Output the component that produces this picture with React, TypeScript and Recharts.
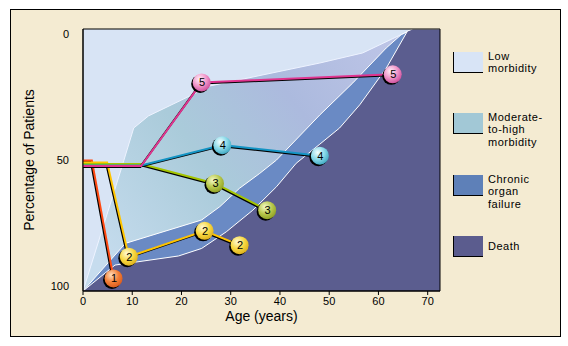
import React from "react"
import {
  ComposedChart,
  Area,
  Line,
  XAxis,
  YAxis,
  CartesianGrid,
  ReferenceArea,
} from "recharts"

// axis ticks
const ageTicks = [0, 10, 20, 30, 40, 50, 60, 70]
const pctTicks = [0, 50, 100]

// region boundaries (age in years, percentage of patients from the top)
const lowEdge = [
  { age: 0, pct: 102 },
  { age: 7.9, pct: 52.7 },
  { age: 10.3, pct: 37.3 },
  { age: 13.3, pct: 32.5 },
  { age: 20.1, pct: 26.1 },
  { age: 25.8, pct: 20.6 },
  { age: 48.1, pct: 11.5 },
  { age: 56.8, pct: 7.5 },
  { age: 67, pct: -2 },
]

const chronicEdge = [
  { age: 0, pct: 102 },
  { age: 8.6, pct: 83.1 },
  { age: 24.1, pct: 73.8 },
  { age: 27.8, pct: 68.5 },
  { age: 31.8, pct: 61.2 },
  { age: 35.9, pct: 55.3 },
  { age: 39.3, pct: 50 },
  { age: 48.1, pct: 32.1 },
  { age: 54.8, pct: 19.4 },
  { age: 61.6, pct: 5.5 },
  { age: 64.6, pct: 0.3 },
  { age: 67, pct: -2 },
]

const deathEdge = [
  { age: 0, pct: 102 },
  { age: 6.5, pct: 91.7 },
  { age: 19.4, pct: 88.1 },
  { age: 24.1, pct: 85.1 },
  { age: 29.1, pct: 78.5 },
  { age: 34.5, pct: 69.9 },
  { age: 39.3, pct: 60.6 },
  { age: 43.3, pct: 51.3 },
  { age: 48.1, pct: 43.7 },
  { age: 52.1, pct: 37.3 },
  { age: 56.2, pct: 28.1 },
  { age: 61.6, pct: 13.5 },
  { age: 65.9, pct: -1.2 },
  { age: 67, pct: -2 },
  { age: 72.5, pct: -2 },
]

// patient courses, numbered balls where ball = true
const path1 = [
  { age: 0, pct: 50.2 },
  { age: 1.8, pct: 50.2 },
  { age: 6.2, pct: 97, ball: true },
]
const path2 = [
  { age: 0, pct: 51 },
  { age: 4.9, pct: 51 },
  { age: 9.3, pct: 88.4, ball: true },
  { age: 24.7, pct: 78.1, ball: true },
  { age: 31.8, pct: 83.8, ball: true },
]
const path3 = [
  { age: 0, pct: 51.6 },
  { age: 11.8, pct: 51.6 },
  { age: 26.8, pct: 59.3, ball: true },
  { age: 37.4, pct: 69.9, ball: true },
]
const path4 = [
  { age: 0, pct: 52.2 },
  { age: 11.8, pct: 52.2 },
  { age: 28.3, pct: 44.1, ball: true },
  { age: 48.1, pct: 48.3, ball: true },
]
const path5 = [
  { age: 0, pct: 52.4 },
  { age: 11.8, pct: 52.4 },
  { age: 24.1, pct: 19.2, ball: true },
  { age: 62.9, pct: 16, ball: true },
]

const paths = [path1, path2, path3, path4, path5]
const pathColors = ["#ff4a12", "#ffc400", "#a4c400", "#1494c4", "#e0348f"]
const ballColors = [
  ["#ffe0c0", "#f48038", "#d85a1c"],
  ["#fffbd8", "#f8d840", "#dcae1c"],
  ["#f4fac8", "#b8c84c", "#8ea022"],
  ["#f4ffff", "#86d8e8", "#3ea6c0"],
  ["#fff2fa", "#f094c8", "#cc4e9c"],
]

const legendLabels = [
  ["Low", "morbidity"],
  ["Moderate-", "to-high", "morbidity"],
  ["Chronic", "organ", "failure"],
  ["Death"],
]
const legendColors = ["#d8e4f6", "#a2c8d6", "#5e80b8", "#5b5c8e"]
const legendTops = [52, 113, 175, 236]

const makeBall = (n: number) => (props: any) => {
  const { cx, cy, payload, index } = props
  if (!payload || !payload.ball) return <g key={index} />
  return (
    <g key={index}>
      <circle cx={cx - 1.5} cy={cy + 1.5} r={9} fill="#000" />
      <circle cx={cx} cy={cy} r={9} fill={`url(#ball${n})`} />
      <text
        x={cx + 0.5}
        y={cy}
        dy="0.36em"
        textAnchor="middle"
        fontSize={11}
        fill="#000"
      >
        {n}
      </text>
    </g>
  )
}

export default function App() {
  return (
    <div
      style={{
        position: "fixed",
        left: 0,
        top: 0,
        width: 568,
        height: 346,
        background: "#fff",
        fontFamily: "'Liberation Sans', Arial, sans-serif",
      }}
    >
      <style>{`.course .recharts-line-curve { filter: drop-shadow(-1px 1px 0 #000); }`}</style>
      <div
        style={{
          position: "absolute",
          left: 10,
          top: 9,
          width: 551,
          height: 328,
          boxSizing: "border-box",
          border: "1px solid #000",
          background: "#f4ebd2",
        }}
      />
      <div style={{ position: "absolute", left: 0, top: 0 }}>
        <ComposedChart
          width={568}
          height={346}
          margin={{ top: 29, right: 128, bottom: 25, left: 23 }}
        >
          <defs>
            <linearGradient id="modFill" x1="0" y1="0.8" x2="1" y2="0.2">
              <stop offset="0" stopColor="#c6dcee" />
              <stop offset="0.4" stopColor="#aacbda" />
              <stop offset="0.7" stopColor="#acbade" />
              <stop offset="1" stopColor="#bcc4e6" />
            </linearGradient>
            {ballColors.map((c, i) => (
              <radialGradient key={i} id={`ball${i + 1}`} cx="0.38" cy="0.32" r="0.72">
                <stop offset="0" stopColor={c[0]} />
                <stop offset="0.55" stopColor={c[1]} />
                <stop offset="1" stopColor={c[2]} />
              </radialGradient>
            ))}
          </defs>
          <CartesianGrid horizontal={false} vertical={false} fill="#d8e4f5" />
          <XAxis
            type="number"
            dataKey="age"
            domain={[0, 72.5]}
            ticks={ageTicks}
            allowDataOverflow
            height={30}
            tickSize={4}
            tickMargin={2}
            stroke="#000"
            tick={{ fill: "#000", fontSize: 11 }}
            label={{
              value: "Age (years)",
              position: "insideBottom",
              offset: 0,
              fontSize: 14,
              fill: "#000",
            }}
          />
          <YAxis
            type="number"
            dataKey="pct"
            reversed
            domain={[-2, 102]}
            ticks={pctTicks}
            allowDataOverflow
            width={60}
            tickLine={false}
            tickSize={0}
            tickMargin={14}
            stroke="#000"
            tick={{ fill: "#000", fontSize: 11 }}
            label={{
              value: "Percentage of Patients",
              position: "insideLeft",
              angle: -90,
              offset: 6,
              fontSize: 14,
              fill: "#000",
              style: { textAnchor: "middle" },
            }}
          />
          <Area
            data={lowEdge}
            dataKey="pct"
            type="linear"
            baseValue={102}
            fill="url(#modFill)"
            fillOpacity={1}
            stroke="#eef3ff"
            strokeWidth={1}
            isAnimationActive={false}
          />
          <Area
            data={chronicEdge}
            dataKey="pct"
            type="linear"
            baseValue={102}
            fill="#6a8ac4"
            fillOpacity={1}
            stroke="#ffffff"
            strokeWidth={1}
            isAnimationActive={false}
          />
          <Area
            data={deathEdge}
            dataKey="pct"
            type="linear"
            baseValue={102}
            fill="#5b5d8f"
            fillOpacity={1}
            stroke="#ffffff"
            strokeWidth={1}
            isAnimationActive={false}
          />
          {paths.map((d, i) => (
            <Line
              key={i}
              className="course"
              data={d}
              dataKey="pct"
              type="linear"
              stroke={pathColors[i]}
              strokeWidth={2}
              dot={makeBall(i + 1)}
              activeDot={false}
              isAnimationActive={false}
            />
          ))}
          <ReferenceArea
            x1={0}
            x2={72.5}
            y1={-2}
            y2={102}
            fill="none"
            stroke="#000"
            strokeWidth={1}
            ifOverflow="visible"
          />
        </ComposedChart>
      </div>
      {legendLabels.map((lines, i) => (
        <div
          key={i}
          style={{ position: "absolute", left: 453, top: legendTops[i], height: 21 }}
        >
          <div
            style={{
              position: "absolute",
              left: 0,
              top: 0,
              width: 29,
              height: 20,
              borderLeft: "1px solid #000",
              borderBottom: "1px solid #000",
              background: legendColors[i],
            }}
          />
          <div
            style={{
              position: "absolute",
              left: 35,
              top: lines.length === 1 ? 4 : -2,
              fontSize: 11,
              lineHeight: "12.3px",
              letterSpacing: 0.5,
              color: "#000",
              whiteSpace: "nowrap",
            }}
          >
            {lines.map((t, j) => (
              <div key={j}>{t}</div>
            ))}
          </div>
        </div>
      ))}
    </div>
  )
}
